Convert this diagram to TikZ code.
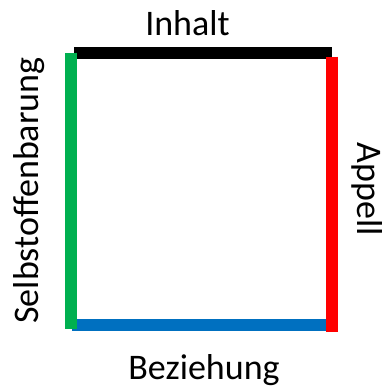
\documentclass[tikz,border=0pt]{standalone}
\usepackage{fontspec}
\setmainfont{Carlito}
\definecolor{sidegreen}{HTML}{00B050}
\definecolor{sidered}{HTML}{FF0000}
\definecolor{sideblue}{HTML}{0070C0}
\begin{document}
\begin{tikzpicture}[x=1pt,y=-1pt,
  side/.style={line width=12pt,line cap=butt},
  label/.style={inner sep=0pt,anchor=base,font=\fontsize{36}{40}\selectfont}]
\useasboundingbox (0,0) rectangle (382,386);
% corners of the four sides
\coordinate (tl) at (74,53.3);
\coordinate (tr) at (331.7,53.3);
\coordinate (bl) at (72,325.3);
\coordinate (br) at (327,325.3);
\coordinate (lt) at (71,52.7);
\coordinate (lb) at (71,328.7);
\coordinate (rt) at (332.2,56.7);
\coordinate (rb) at (332.2,332);
% sides of the square
\draw[side,black] (tl) -- (tr);
\draw[side,sideblue] (bl) -- (br);
\draw[side,sidegreen] (lt) -- (lb);
\draw[side,sidered] (rt) -- (rb);
% labels
\node[label] (inhalt) at (187.5,35.3) {Inhalt};
\node[label] (bez) at (204,379.3) {Beziehung};
\node[label,rotate=90] (selbst) at (38.3,190.5) {Selbstoffenbarung};
\node[label,rotate=-90] (appell) at (357,189) {Appell};
\end{tikzpicture}
\end{document}
